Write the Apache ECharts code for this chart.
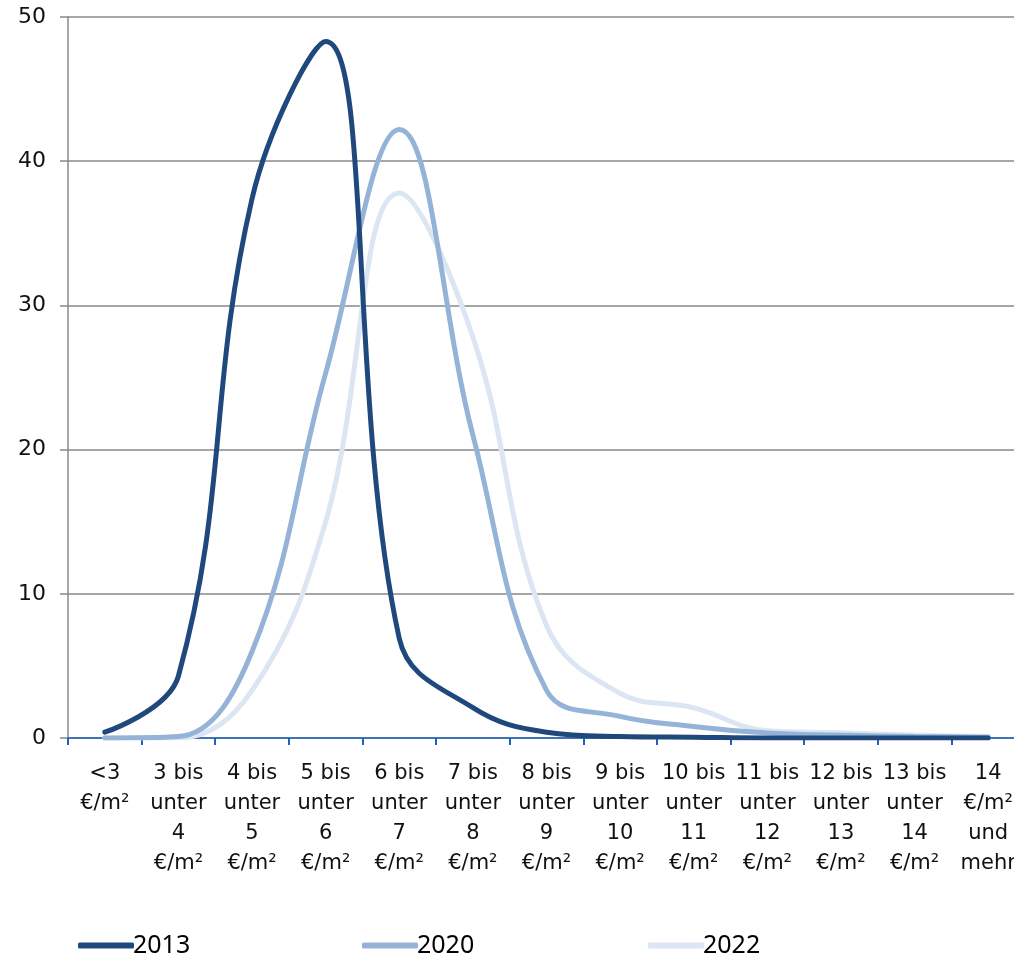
<!DOCTYPE html>
<html><head><meta charset="utf-8">
<script src="https://cdn.jsdelivr.net/npm/echarts@6/dist/echarts.min.js"></script>
<style>html,body{margin:0;padding:0;background:#fff;}#c{width:1014px;height:957px;}</style>
</head><body><div id="c"></div>
<script>
const categories = ["<3\n€/m²","3 bis\nunter\n4\n€/m²","4 bis\nunter\n5\n€/m²","5 bis\nunter\n6\n€/m²","6 bis\nunter\n7\n€/m²","7 bis\nunter\n8\n€/m²","8 bis\nunter\n9\n€/m²","9 bis\nunter\n10\n€/m²","10 bis\nunter\n11\n€/m²","11 bis\nunter\n12\n€/m²","12 bis\nunter\n13\n€/m²","13 bis\nunter\n14\n€/m²","14\n€/m²\nund\nmehr"];
const s2013 = [0.4, 4.3, 37.4, 48.3, 6.9, 2.1, 0.4, 0.1, 0.05, 0, 0, 0, 0];
const s2020 = [0, 0.1, 6.0, 25.3, 42.2, 21.0, 3.3, 1.5, 0.8, 0.35, 0.2, 0.1, 0.05];
const s2022 = [0, 0, 3.3, 15.0, 37.8, 27.8, 7.8, 3.1, 2.1, 0.5, 0.37, 0.2, 0.1];
const names = ["2013","2020","2022"];
const colors = ["#1f497d","#95b3d7","#dce6f2"];
const font = "DejaVu Sans";
const chart = echarts.init(document.getElementById('c'));
function legend(i, left){
  return {data:[names[i]], left:left, top:928, itemWidth:56, itemHeight:6, itemGap:0, icon:'roundRect',
    textStyle:{fontFamily:"Noto Sans", fontSize:25, color:'#000', padding:[0,0,0,-6]}};
}
chart.setOption({
  animation:false,
  color: colors,
  legend:[legend(0,73),legend(1,357),legend(2,643)],
  grid:{left:68, width:957, top:17, height:721, containLabel:false, outerBoundsMode:'none'},
  xAxis:{type:'category', data:categories, boundaryGap:true,
    axisLine:{lineStyle:{color:'#2060c0', width:1.5}},
    axisTick:{show:true, length:7, lineStyle:{color:'#2060c0', width:2}},
    axisLabel:{interval:0, margin:21, fontFamily:font, fontSize:21, lineHeight:30, color:'#111', align:'center'}},
  yAxis:{type:'value', min:0, max:50, interval:10,
    axisLine:{show:true, lineStyle:{color:'#888', width:1.5}},
    axisTick:{show:true, length:8, lineStyle:{color:'#888', width:1.5}},
    axisLabel:{fontFamily:font, fontSize:22, color:'#111', margin:22},
    splitLine:{lineStyle:{color:'#888', width:1.5}}},
  series:[s2013,s2020,s2022].map((d,i)=>({
    name:names[i], type:'line', data:d, smooth:0.4, symbol:'none',
    lineStyle:{width:5, color:colors[i], cap:'round'}, z:10-i
  }))
});
</script></body></html>
